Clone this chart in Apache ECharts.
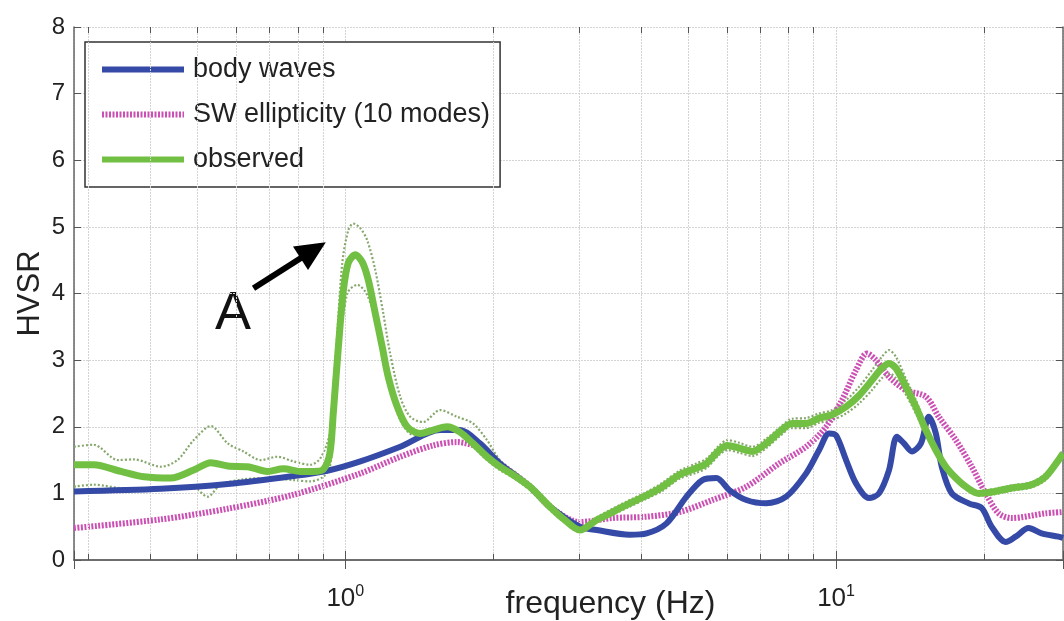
<!DOCTYPE html>
<html>
<head>
<meta charset="utf-8">
<script src="https://cdn.jsdelivr.net/npm/echarts@6/dist/echarts.min.js"></script>
<style>
  html, body { margin: 0; padding: 0; background: #fff; }
  #chart { width: 1064px; height: 621px; }
</style>
</head>
<body>
<div id="chart"></div>
<script>
// 横轴范围与刻度（对数轴）
const xMin = 0.28;
const xMax = 29;
const minorGridFreq = [0.3, 0.4, 0.5, 0.6, 0.7, 0.8, 0.9, 2, 3, 4, 5, 6, 7, 8, 9, 20];
const yTicks = [0, 1, 2, 3, 4, 5, 6, 7, 8];

// body waves
const bodyFreq = [0.28, 0.421, 0.576, 0.784, 0.919, 1.073, 1.294, 1.56, 1.713, 1.881, 2.065, 2.377, 2.611, 3.004, 3.252, 3.796, 4.111, 4.514, 4.957, 5.342, 5.704, 6.06, 6.563, 7.207, 7.913, 8.69, 9.236, 9.678, 10.0, 10.48, 10.98, 11.67, 12.23, 12.82, 13.3, 13.75, 14.27, 14.89, 15.45, 15.97, 16.42, 17.21, 18.64, 19.81, 20.75, 22.16, 23.22, 24.68, 26.23, 28.4, 29];
const bodyVal = [1.03, 1.07, 1.14, 1.26, 1.34, 1.48, 1.7, 1.95, 1.95, 1.75, 1.45, 1.1, 0.8, 0.5, 0.45, 0.38, 0.4, 0.55, 0.95, 1.2, 1.23, 1.05, 0.9, 0.85, 0.95, 1.3, 1.65, 1.9, 1.87, 1.5, 1.15, 0.93, 1.0, 1.35, 1.85, 1.75, 1.63, 1.75, 2.15, 1.9, 1.4, 1.0, 0.85, 0.78, 0.5, 0.27, 0.35, 0.48, 0.4, 0.35, 0.33];

// SW ellipticity (10 modes)
const swFreq = [0.28, 0.421, 0.576, 0.784, 1.073, 1.294, 1.51, 1.689, 1.881, 2.065, 2.377, 2.611, 3.004, 3.505, 4.111, 4.797, 5.598, 6.563, 7.657, 8.69, 9.543, 10.28, 10.98, 11.56, 12.06, 12.82, 13.88, 15.24, 16.19, 17.54, 18.9, 20.18, 21.44, 22.79, 26.72, 29];
const swVal = [0.48, 0.61, 0.77, 0.98, 1.3, 1.55, 1.72, 1.77, 1.68, 1.45, 1.1, 0.8, 0.57, 0.63, 0.65, 0.72, 0.9, 1.1, 1.45, 1.7, 2.0, 2.4, 2.85, 3.1, 3.0, 2.75, 2.55, 2.45, 2.15, 1.8, 1.4, 1.0, 0.7, 0.63, 0.7, 0.72];

// observed（均值）
const obsFreq = [0.28, 0.307, 0.349, 0.389, 0.441, 0.491, 0.532, 0.576, 0.632, 0.694, 0.748, 0.81, 0.861, 0.902, 0.93, 0.945, 0.968, 0.991, 1.014, 1.048, 1.083, 1.114, 1.151, 1.189, 1.223, 1.276, 1.337, 1.42, 1.51, 1.612, 1.713, 1.82, 1.944, 2.065, 2.195, 2.377, 2.611, 2.801, 3.004, 3.252, 3.505, 3.796, 4.111, 4.43, 4.797, 5.194, 5.443, 5.784, 6.004, 6.352, 6.75, 7.207, 7.657, 8.138, 8.69, 9.236, 9.815, 10.48, 11.14, 11.84, 12.4, 12.82, 13.24, 13.88, 14.54, 15.24, 15.97, 16.73, 17.54, 18.38, 19.53, 20.75, 22.79, 25.03, 26.72, 28.4, 29];
const obsMean = [1.43, 1.43, 1.33, 1.25, 1.23, 1.35, 1.46, 1.41, 1.4, 1.33, 1.37, 1.33, 1.33, 1.36, 1.6, 2.2, 3.2, 4.05, 4.46, 4.58, 4.47, 4.2, 3.7, 3.2, 2.75, 2.3, 2.0, 1.9, 1.95, 2.0, 1.92, 1.75, 1.55, 1.4, 1.28, 1.1, 0.8, 0.6, 0.45, 0.6, 0.72, 0.85, 0.97, 1.1, 1.28, 1.38, 1.45, 1.65, 1.72, 1.68, 1.63, 1.75, 1.92, 2.05, 2.05, 2.13, 2.18, 2.3, 2.47, 2.7, 2.88, 2.95, 2.88, 2.6, 2.3, 1.95, 1.65, 1.4, 1.23, 1.1, 1.0, 1.02, 1.08, 1.13, 1.25, 1.5, 1.6];

// observed 上下界（虚线）
const hiFreq = [0.28, 0.307, 0.344, 0.371, 0.421, 0.455, 0.491, 0.532, 0.576, 0.62, 0.672, 0.727, 0.784, 0.849, 0.89, 0.93, 0.945, 0.963, 0.986, 1.014, 1.038, 1.073, 1.108, 1.151, 1.195, 1.234, 1.294, 1.356, 1.44, 1.56, 1.689, 1.82, 1.944, 2.065, 2.237, 2.377, 2.611, 2.801, 3.004, 3.252, 3.505, 3.796, 4.111, 4.43, 4.797, 5.194, 5.443, 5.784, 6.004, 6.352, 6.75, 7.207, 7.657, 8.138, 8.69, 9.236, 9.815, 10.48, 11.14, 11.84, 12.4, 12.82, 13.24, 13.88, 14.54, 15.24, 15.97, 16.73, 17.54, 18.38, 19.53, 20.75, 22.79, 25.03, 26.72, 28.4, 29];
const obsHi = [1.7, 1.73, 1.5, 1.51, 1.4, 1.5, 1.8, 2.01, 1.75, 1.63, 1.5, 1.55, 1.48, 1.43, 1.53, 1.9, 2.6, 3.4, 4.46, 4.95, 5.05, 4.98, 4.8, 4.35, 3.7, 3.1, 2.45, 2.15, 2.07, 2.25, 2.15, 2.05, 1.8, 1.5, 1.3, 1.15, 0.85, 0.63, 0.47, 0.64, 0.77, 0.9, 1.02, 1.16, 1.34, 1.45, 1.52, 1.72, 1.8, 1.76, 1.7, 1.82, 1.98, 2.12, 2.13, 2.2, 2.25, 2.4, 2.6, 2.85, 3.05, 3.15, 3.05, 2.72, 2.4, 2.02, 1.7, 1.45, 1.27, 1.13, 1.03, 1.06, 1.12, 1.17, 1.3, 1.55, 1.65];
const loFreq = [0.28, 0.307, 0.36, 0.421, 0.491, 0.524, 0.557, 0.62, 0.694, 0.784, 0.849, 0.902, 0.93, 0.945, 0.968, 1.009, 1.058, 1.108, 1.161, 1.217, 1.294, 1.375, 1.51, 1.658, 1.82, 1.944, 2.065, 2.195, 2.377, 2.611, 2.801, 3.004, 3.252, 3.505, 3.796, 4.111, 4.43, 4.797, 5.194, 5.443, 5.784, 6.004, 6.352, 6.75, 7.207, 7.657, 8.138, 8.69, 9.236, 9.815, 10.48, 11.14, 11.84, 12.4, 12.82, 13.24, 13.88, 14.54, 15.24, 15.97, 16.73, 17.54, 18.38, 19.53, 20.75, 22.79, 25.03, 26.72, 28.4, 29];
const obsLo = [1.1, 1.13, 1.07, 1.07, 1.08, 0.95, 1.13, 1.21, 1.23, 1.2, 1.18, 1.25, 1.4, 1.9, 3.0, 4.0, 4.13, 3.98, 3.5, 2.75, 2.1, 1.88, 1.92, 1.95, 1.7, 1.5, 1.35, 1.24, 1.05, 0.75, 0.56, 0.42, 0.56, 0.68, 0.8, 0.92, 1.04, 1.22, 1.31, 1.38, 1.58, 1.65, 1.61, 1.56, 1.68, 1.85, 1.98, 1.98, 2.06, 2.1, 2.2, 2.35, 2.55, 2.73, 2.8, 2.73, 2.48, 2.2, 1.88, 1.6, 1.35, 1.19, 1.07, 0.97, 0.98, 1.04, 1.09, 1.2, 1.45, 1.55];

// 箭头标注 A（数据坐标）
const arrowFrom = [0.65, 4.08];
const arrowTo = [0.86, 4.65];

const FONT = 'Liberation Sans, Arial, sans-serif';
const pairs = (xs, ys) => xs.map((x, i) => [x, ys[i]]);
const isPow10 = v => Math.abs(Math.log10(v) - Math.round(Math.log10(v))) < 1e-6;

// 次刻度：上下边框内侧的短线
const minorTickSegs = [];
minorGridFreq.forEach(f => {
	minorTickSegs.push([{ coord: [f, 0] }, { coord: [f, 0.09] }]);
	minorTickSegs.push([{ coord: [f, 7.91] }, { coord: [f, 8] }]);
});

const chart = echarts.init(document.getElementById('chart'));

chart.setOption({
	animation: false,
	backgroundColor: '#fff',
	grid: { left: 74, right: 1, top: 27, bottom: 61, outerBoundsMode: 'none', containLabel: false },
	legend: {
		data: ['body waves', 'SW ellipticity (10 modes)', 'observed'],
		orient: 'vertical',
		left: 85,
		top: 42,
		padding: [14, 10, 14, 14],
		itemWidth: 82,
		itemHeight: 10,
		itemGap: 18,
		backgroundColor: '#fff',
		borderColor: '#333',
		borderWidth: 1.5,
		borderRadius: 0,
		itemStyle: { opacity: 0 },
		lineStyle: { width: 6 },
		textStyle: { fontFamily: FONT, fontSize: 27, color: '#222', padding: [0, 0, 0, 4] }
	},
	xAxis: [
		{
			type: 'log',
			logBase: 10,
			min: xMin,
			max: xMax,
			name: 'frequency (Hz)',
			nameLocation: 'middle',
			nameMoveOverlap: false,
			nameGap: 28,
			nameTextStyle: { fontFamily: FONT, fontSize: 32, color: '#222', padding: [0, 0, 0, 84] },
			axisLine: { lineStyle: { color: '#666', width: 1.5 } },
			axisTick: { inside: true, length: 9, lineStyle: { color: '#555' } },
			axisLabel: {
				margin: 24,
				fontFamily: FONT,
				color: '#222',
				formatter: v => isPow10(v) ? '{b|10}{s|' + Math.round(Math.log10(v)) + '}' : '',
				rich: {
					b: { fontSize: 26, fontFamily: FONT, color: '#222', lineHeight: 30 },
					s: { fontSize: 16, fontFamily: FONT, color: '#222', verticalAlign: 'top', lineHeight: 30 }
				}
			},
			splitLine: { show: true, lineStyle: { color: '#d4d4d4', width: 1, type: [2, 1] } }
		},
		{
			type: 'log',
			logBase: 10,
			min: xMin,
			max: xMax,
			position: 'top',
			axisLine: { lineStyle: { color: '#666', width: 1.5 } },
			axisTick: { inside: true, length: 9, lineStyle: { color: '#555' } },
			axisLabel: { show: false },
			splitLine: { show: false }
		}
	],
	yAxis: [
		{
			type: 'value',
			min: yTicks[0],
			max: yTicks[yTicks.length - 1],
			interval: 1,
			name: 'HVSR',
			nameLocation: 'middle',
			nameMoveOverlap: false,
			nameGap: 28,
			nameTextStyle: { fontFamily: FONT, fontSize: 31, color: '#222' },
			axisLine: { show: true, lineStyle: { color: '#666', width: 1.5 } },
			axisTick: { show: true, inside: true, length: 7, lineStyle: { color: '#555' } },
			axisLabel: { margin: 9, fontFamily: FONT, fontSize: 24, color: '#222' },
			splitLine: { show: true, lineStyle: { color: '#d4d4d4', width: 1, type: [2, 1] } }
		},
		{
			type: 'value',
			min: yTicks[0],
			max: yTicks[yTicks.length - 1],
			interval: 1,
			position: 'right',
			axisLine: { show: true, lineStyle: { color: '#666', width: 1.5 } },
			axisTick: { show: true, inside: true, length: 7, lineStyle: { color: '#555' } },
			axisLabel: { show: false },
			splitLine: { show: false }
		}
	],
	graphic: [
		{
			type: 'text',
			left: 215,
			top: 287,
			style: { text: 'A', fontFamily: FONT, fontSize: 54, fill: '#111' }
		}
	],
	series: [
		{
			name: 'grid',
			type: 'line',
			data: [],
			silent: true,
			markLine: {
				silent: true,
				symbol: 'none',
				label: { show: false },
				lineStyle: { color: '#d4d4d4', width: 1, type: [2, 1] },
				data: minorGridFreq.map(f => ({ xAxis: f }))
			}
		},
		{
			name: 'ticks',
			type: 'line',
			data: [],
			silent: true,
			z: 8,
			markLine: {
				silent: true,
				symbol: 'none',
				label: { show: false },
				lineStyle: { color: '#555', width: 1, type: 'solid' },
				data: minorTickSegs
			}
		},
		{
			name: 'obs upper',
			type: 'line',
			data: pairs(hiFreq, obsHi),
			showSymbol: false,
			smooth: 0.3,
			lineStyle: { color: '#86a86c', width: 2.2, type: [2, 2] },
			z: 3
		},
		{
			name: 'obs lower',
			type: 'line',
			data: pairs(loFreq, obsLo),
			showSymbol: false,
			smooth: 0.3,
			lineStyle: { color: '#86a86c', width: 2.2, type: [2, 2] },
			z: 3
		},
		{
			name: 'SW ellipticity (10 modes)',
			type: 'line',
			data: pairs(swFreq, swVal),
			showSymbol: false,
			symbol: 'none',
			smooth: 0.3,
			itemStyle: { color: '#cc4fb4' },
			lineStyle: { color: '#cc4fb4', width: 6, type: [2, 1.5] },
			z: 4
		},
		{
			name: 'body waves',
			type: 'line',
			data: pairs(bodyFreq, bodyVal),
			showSymbol: false,
			symbol: 'none',
			smooth: 0.3,
			itemStyle: { color: '#3549a6' },
			lineStyle: { color: '#3549a6', width: 6 },
			z: 5
		},
		{
			name: 'observed',
			type: 'line',
			data: pairs(obsFreq, obsMean),
			showSymbol: false,
			symbol: 'none',
			smooth: 0.3,
			itemStyle: { color: '#72c043' },
			lineStyle: { color: '#72c043', width: 7 },
			z: 6,
			markLine: {
				silent: true,
				symbol: ['none', 'triangle'],
				symbolSize: [28, 30],
				label: { show: false },
				lineStyle: { color: '#000', width: 6, type: 'solid' },
				data: [[{ coord: arrowFrom }, { coord: arrowTo }]]
			}
		}
	]
});
</script>
</body>
</html>
